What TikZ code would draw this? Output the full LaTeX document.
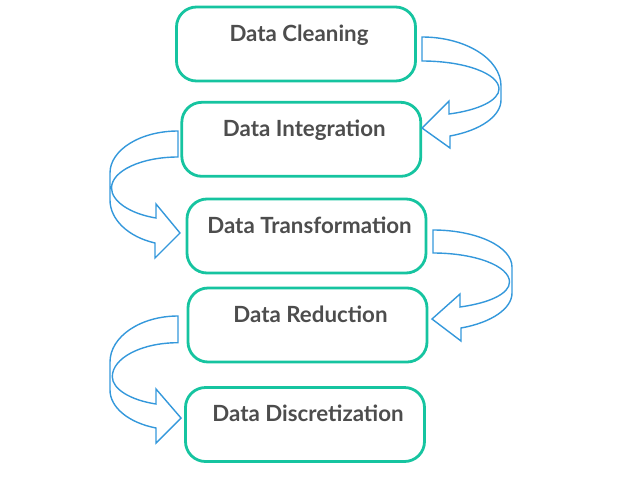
\documentclass[tikz,border=0pt]{standalone}
\usepackage{fontspec}
\setmainfont{Lato}
\definecolor{boxteal}{RGB}{22,196,160}
\definecolor{arrowblue}{RGB}{52,152,219}
\definecolor{textgray}{RGB}{77,77,77}
\begin{document}
\begin{tikzpicture}[x=1pt,y=-1pt,
  stepbox/.style={draw=boxteal, line width=2.8pt, rounded corners=20pt,
    minimum width=239pt, minimum height=74pt, inner sep=0pt},
  steplabel/.style={anchor=base, text=textgray, inner sep=0pt,
    font=\bfseries\fontsize{22.3}{26}\selectfont, xshift=3pt, yshift=3pt},
  blockarrow/.style={draw=arrowblue, line width=1.4pt, line join=miter}]
\useasboundingbox (0,0) rectangle (618,493);

% boxes
\node[stepbox] (b1) at (296,44) {};
\node[stepbox] (b2) at (301.3,139.3) {};
\node[stepbox] (b3) at (306.5,236) {};
\node[stepbox] (b4) at (307.5,325) {};
\node[stepbox] (b5) at (305,424.5) {};

% labels
\node[steplabel] (t1) at (b1.center) {Data Cleaning};
\node[steplabel] (t2) at (b2.center) {Data Integration};
\node[steplabel] (t3) at (b3.center) {Data Transformation};
\node[steplabel] (t4) at (b4.center) {Data Reduction};
\node[steplabel] (t5) at (b5.center) {Data Discretization};

% curved block arrow 1 (right side, box 1 to box 2)
\draw[blockarrow] (422,37) .. controls (465.6,37) and (501,59) .. (501,86)
  -- (501,100) .. controls (501,116) and (480.7,130.4) .. (450,136)
  -- (450,148) -- (422,128) -- (449,101) -- (449,114)
  .. controls (478.9,110.1) and (499,100.2) .. (499,89)
  .. controls (499,73.5) and (464.5,61) .. (422,61) -- cycle;

% curved block arrow 2 (left side, box 2 to box 3)
\draw[blockarrow] (178,131) .. controls (140.5,131) and (110,149.8) .. (110,173)
  -- (110,200) .. controls (110,219.4) and (128,236.8) .. (155,243)
  -- (155,258) -- (180,233) -- (156,204) -- (156,218)
  .. controls (129.6,213.7) and (111.5,201) .. (111.5,188)
  .. controls (111.5,170.9) and (141.3,157) .. (178,157) -- cycle;

% curved block arrow 3 (right side, box 3 to box 4)
\draw[blockarrow] (433,230) .. controls (476.6,230) and (512,246.6) .. (512,267)
  -- (512,293) .. controls (512,308.5) and (491.7,322.5) .. (461,328)
  -- (461,341) -- (432,319) -- (460,294) -- (460,307)
  .. controls (489.7,302.9) and (509.5,293.6) .. (509.5,282)
  .. controls (509.5,266) and (475.2,253) .. (433,253) -- cycle;

% curved block arrow 4 (left side, box 4 to box 5)
\draw[blockarrow] (178,316) .. controls (140.5,316) and (110,336.6) .. (110,362)
  -- (110,390) .. controls (110,407.3) and (128.5,422.7) .. (156,428)
  -- (156,443) -- (181,418) -- (156,389) -- (156,404)
  .. controls (130,400) and (112.3,388.9) .. (112.3,376.7)
  .. controls (112.3,357.9) and (141.7,342.7) .. (178,342.7) -- cycle;
\end{tikzpicture}
\end{document}
